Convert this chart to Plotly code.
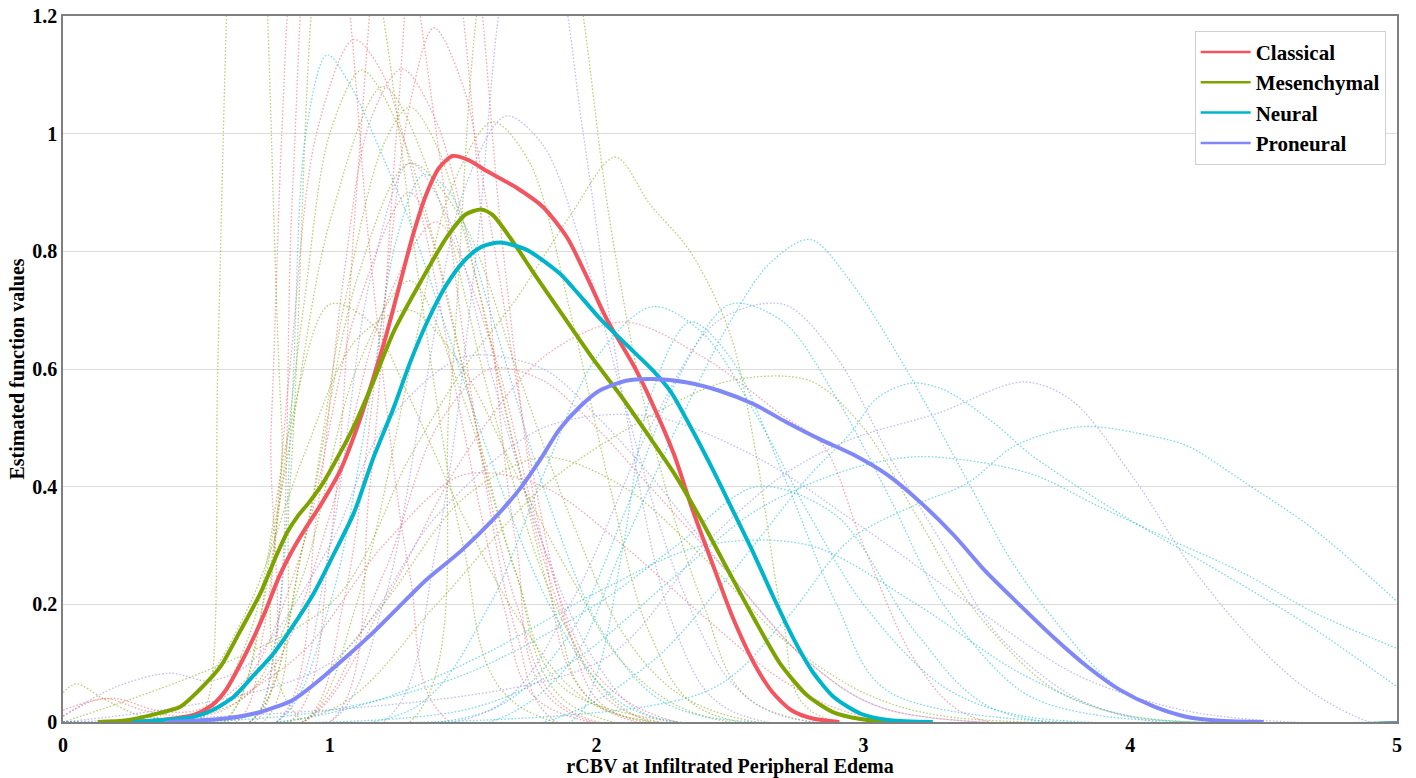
import plotly.graph_objects as go

# ---------------- main (group) curves ----------------
classical_x = [0.24,0.36,0.49,0.56,0.61,0.66,0.71,0.76,0.81,0.86,0.91,0.97,1.04,1.11,1.16,1.21,1.26,1.31,1.36,1.41,1.46,
               1.52,1.59,1.70,1.80,1.89,1.96,2.04,2.14,2.21,2.29,2.36,2.44,2.51,2.59,2.66,2.73,2.81,2.91]
classical_y = [0,0.003,0.012,0.029,0.054,0.094,0.139,0.19,0.247,0.292,0.33,0.372,0.428,0.51,0.58,0.655,0.74,0.825,0.895,0.942,0.962,
               0.955,0.936,0.908,0.875,0.823,0.76,0.683,0.605,0.54,0.455,0.36,0.262,0.178,0.10,0.05,0.02,0.006,0]

mesenchymal_x = [0.13,0.24,0.36,0.44,0.51,0.59,0.66,0.74,0.80,0.84,0.88,0.92,0.97,1.01,1.09,1.16,1.24,1.34,1.44,1.51,1.567,
                 1.61,1.69,1.76,1.86,1.99,2.09,2.19,2.29,2.39,2.49,2.59,2.69,2.79,2.89,2.99,3.09]
mesenchymal_y = [0,0.003,0.015,0.026,0.054,0.094,0.151,0.219,0.283,0.322,0.35,0.372,0.403,0.434,0.502,0.575,0.664,0.748,0.825,0.863,0.871,
                 0.862,0.814,0.766,0.70,0.615,0.555,0.49,0.423,0.345,0.26,0.176,0.098,0.045,0.016,0.005,0]

neural_x = [0.26,0.36,0.49,0.56,0.64,0.71,0.79,0.86,0.94,1.01,1.09,1.16,1.24,1.30,1.37,1.44,1.51,1.57,1.64,1.74,1.86,
            1.91,2.01,2.11,2.21,2.28,2.36,2.44,2.51,2.59,2.66,2.74,2.81,2.89,2.99,3.10,3.26]
neural_y = [0,0.003,0.009,0.02,0.043,0.077,0.117,0.162,0.219,0.281,0.355,0.445,0.535,0.61,0.685,0.745,0.787,0.808,0.815,0.802,0.763,
            0.739,0.687,0.642,0.598,0.56,0.495,0.425,0.36,0.285,0.215,0.14,0.085,0.042,0.014,0.003,0]

proneural_x = [0.39,0.61,0.74,0.86,0.96,1.06,1.16,1.26,1.36,1.49,1.61,1.71,1.79,1.86,1.94,2.01,2.11,2.21,2.34,2.46,
               2.59,2.71,2.84,2.96,3.09,3.21,3.34,3.46,3.59,3.71,3.84,3.96,4.09,4.21,4.34,4.50]
proneural_y = [0,0.006,0.017,0.037,0.071,0.11,0.151,0.196,0.241,0.29,0.343,0.395,0.447,0.497,0.537,0.563,0.58,0.583,0.577,0.563,
               0.54,0.51,0.48,0.455,0.42,0.375,0.317,0.255,0.197,0.145,0.094,0.055,0.026,0.009,0.002,0]

# ---------------- individual (dotted) curves ----------------
classical_ind_x = [
    [0.7,0.8,0.86,0.95,1.1,1.25,1.4,1.55,1.7,1.85],
    [0.65,0.75,0.85,0.95,1.09,1.2,1.35,1.5,1.65,1.8],
    [0.8,0.95,1.05,1.15,1.27,1.4,1.55,1.7,1.9,2.1],
    [0.9,1.05,1.2,1.3,1.39,1.5,1.6,1.75,1.9,2.05],
    [0.85,1.0,1.1,1.2,1.3,1.4,1.5,1.6,1.7,1.85],
    [1.0,1.15,1.25,1.35,1.45,1.55,1.65,1.8,2.0],
    [0.9,1.2,1.5,1.8,2.1,2.4,2.7,2.85,3.0,3.2,3.4],
    [0.9,1.2,1.4,1.6,1.8,2.0,2.2,2.5,2.8,3.1],
    [0,0.1,0.2,0.35,0.5,0.7,0.9,1.1,1.3,1.5,1.7,1.9],
    [0,0.15,0.3,0.45,0.6,0.8,1.0,1.2,1.4,1.6,1.8,2.0,2.3],
    [0.72,0.78,0.82,0.86,0.95,1.05,1.15,1.3,1.45],
    [0.3,0.6,0.9,1.2,1.5,1.8,2.1,2.4,2.7,3.0],
]
classical_ind_y = [
    [0,0.15,0.9,1.5,1.7,1.45,1.0,0.5,0.15,0],
    [0,0.15,0.6,1.0,1.16,1.1,0.85,0.5,0.2,0.03],
    [0,0.35,0.75,1.02,1.11,1.02,0.75,0.45,0.15,0.02],
    [0,0.2,0.7,1.05,1.18,1.08,0.85,0.45,0.15,0.02],
    [0,0.3,0.9,1.45,1.7,1.55,1.2,0.7,0.3,0.03],
    [0,0.4,1.0,1.5,1.6,1.3,0.8,0.3,0.03],
    [0,0.2,0.45,0.62,0.68,0.62,0.52,0.47,0.3,0.1,0.01],
    [0,0.25,0.5,0.6,0.58,0.5,0.4,0.25,0.1,0.02],
    [0.02,0.035,0.04,0.02,0.02,0.08,0.3,0.7,0.9,0.6,0.2,0.02],
    [0.01,0.04,0.02,0.01,0.02,0.1,0.35,0.7,0.85,0.65,0.3,0.08,0],
    [0,0.5,1.0,1.3,1.5,1.3,0.8,0.25,0],
    [0,0.03,0.12,0.3,0.42,0.4,0.3,0.18,0.07,0.01],
]

mesenchymal_ind_x = [
    [0.5,0.55,0.58,0.62,0.68,0.75,0.82,0.9],
    [1.0,1.3,1.5,1.7,1.9,2.07,2.2,2.35,2.5,2.6,2.7,2.8],
    [0.5,0.7,0.85,1.0,1.15,1.3,1.5,1.7,1.9,2.1],
    [0.6,0.75,0.9,1.0,1.12,1.25,1.4,1.55,1.7,1.9],
    [0.7,0.9,1.05,1.2,1.3,1.4,1.55,1.7,1.85,2.0],
    [0.9,1.1,1.3,1.45,1.61,1.75,1.9,2.05,2.2,2.4],
    [0.75,0.85,0.93,1.0,1.1,1.2,1.35,1.5,1.7],
    [1.3,1.45,1.55,1.7,1.85,1.95,2.05,2.2,2.4,2.6],
    [0,0.05,0.15,0.3,0.5,0.7,0.9,1.1,1.3,1.5,1.7,1.9],
    [1.0,1.4,1.8,2.2,2.5,2.8,3.0,3.2,3.4,3.7,4.0],
    [0.7,0.9,1.1,1.3,1.5,1.7,1.9,2.1,2.3,2.6],
    [0.6,0.8,1.0,1.2,1.4,1.6,1.8,2.0,2.2],
    [0.3,0.5,0.7,0.9,1.1,1.3,1.5,1.7,1.9,2.1,2.4],
    [0.6,0.9,1.2,1.5,1.8,2.1,2.4,2.7,3.0,3.3],
]
mesenchymal_ind_y = [
    [0,0.05,0.6,1.3,1.9,1.4,0.5,0],
    [0.2,0.45,0.6,0.72,0.86,0.96,0.88,0.8,0.66,0.45,0.17,0.02],
    [0,0.15,0.5,0.71,0.68,0.55,0.35,0.18,0.06,0.01],
    [0,0.2,0.7,1.0,1.108,1.02,0.8,0.5,0.25,0.03],
    [0,0.3,0.7,0.98,1.045,0.98,0.75,0.45,0.18,0.03],
    [0,0.2,0.6,0.9,1.02,0.95,0.7,0.4,0.15,0.02],
    [0,0.4,1.2,1.5,1.45,1.2,0.7,0.3,0.03],
    [0,0.55,1.2,1.6,1.5,1.2,0.85,0.5,0.2,0.03],
    [0.05,0.065,0.04,0.01,0.01,0.05,0.25,0.6,0.75,0.55,0.25,0.05],
    [0.02,0.2,0.4,0.52,0.58,0.58,0.5,0.35,0.2,0.06,0.01],
    [0,0.3,0.75,0.95,0.85,0.6,0.35,0.15,0.05,0],
    [0,0.35,0.85,1.08,0.9,0.55,0.25,0.07,0],
    [0,0.05,0.2,0.45,0.65,0.7,0.6,0.42,0.25,0.1,0.01],
    [0,0.05,0.2,0.38,0.45,0.4,0.28,0.14,0.05,0.01],
]

neural_ind_x = [
    [0.7,0.8,0.86,0.91,0.99,1.08,1.19,1.3,1.45,1.6,1.8,2.0,2.2],
    [1.6,1.9,2.1,2.3,2.5,2.65,2.8,2.95,3.16,3.39,3.56,3.74,3.95,4.2],
    [1.8,2.2,2.5,2.8,2.95,3.05,3.18,3.3,3.49,3.62,3.82,4.02,4.28,4.49,4.69,5.0],
    [2.4,2.7,2.95,3.2,3.39,3.57,3.82,4.09,4.22,4.42,4.69,5.0],
    [1.5,1.9,2.3,2.6,2.95,3.22,3.62,3.88,4.15,4.42,4.69,5.0],
    [1.3,1.6,1.8,2.0,2.21,2.4,2.6,2.8,3.0,3.3,3.6],
    [1.6,1.9,2.1,2.3,2.5,2.7,2.9,3.1,3.3,3.6,3.9],
    [0.8,1.0,1.15,1.25,1.35,1.45,1.6,1.8,2.0,2.2,2.4],
    [0.5,1.0,1.5,2.0,2.3,2.6,2.9,3.2,3.5],
    [1.9,2.0,2.1,2.2,2.35,2.5,2.7,2.9,3.1],
    [0.8,1.2,1.6,2.0,2.4,2.8,3.2,3.6,4.0],
]
neural_ind_y = [
    [0,0.15,0.56,1.0,1.134,1.08,0.97,0.85,0.65,0.45,0.22,0.07,0.01],
    [0,0.1,0.3,0.5,0.68,0.78,0.82,0.75,0.6,0.41,0.27,0.16,0.06,0.01],
    [0,0.1,0.25,0.42,0.49,0.55,0.576,0.565,0.508,0.457,0.395,0.338,0.27,0.214,0.158,0.06],
    [0.05,0.17,0.31,0.37,0.406,0.47,0.502,0.485,0.468,0.41,0.327,0.205],
    [0.02,0.1,0.25,0.36,0.43,0.451,0.423,0.367,0.31,0.254,0.186,0.125],
    [0.02,0.2,0.42,0.62,0.706,0.66,0.52,0.35,0.2,0.06,0.01],
    [0.02,0.15,0.35,0.58,0.71,0.68,0.55,0.38,0.2,0.05,0.01],
    [0,0.2,0.55,0.82,0.93,0.9,0.7,0.4,0.17,0.05,0.01],
    [0,0.02,0.08,0.2,0.3,0.4,0.35,0.15,0.02],
    [0,0.08,0.3,0.55,0.68,0.62,0.42,0.2,0.05],
    [0,0.04,0.12,0.22,0.3,0.3,0.2,0.08,0.01],
]

proneural_ind_x = [
    [1.2,1.4,1.55,1.65,1.75,1.85,1.95,2.1,2.3,2.5],
    [1.0,1.2,1.35,1.5,1.66,1.8,1.95,2.1,2.3,2.5,2.7],
    [0,0.2,0.4,0.55,0.7,1.0,1.2,1.5,1.8,2.0,2.2,2.5,2.8,3.1],
    [2.0,2.4,2.7,2.95,3.28,3.6,3.78,4.02,4.22,4.42,4.65,4.9],
    [1.0,1.4,1.8,2.2,2.6,3.0,3.4,3.8,4.2,4.6],
    [0.8,1.0,1.15,1.3,1.45,1.6,1.8,2.0,2.2],
    [1.6,1.9,2.2,2.45,2.7,2.9,3.1,3.3,3.5,3.8,4.1],
]
proneural_ind_y = [
    [0,0.3,0.8,1.25,1.4,1.3,1.0,0.55,0.15,0.02],
    [0,0.2,0.55,0.9,1.03,0.98,0.8,0.55,0.25,0.07,0.01],
    [0.01,0.06,0.083,0.07,0.1,0.3,0.5,0.62,0.6,0.52,0.42,0.25,0.1,0.02],
    [0.1,0.3,0.42,0.48,0.525,0.578,0.547,0.41,0.27,0.158,0.06,0.0],
    [0.1,0.35,0.5,0.52,0.45,0.33,0.2,0.08,0.02,0],
    [0,0.3,0.75,0.95,0.85,0.6,0.3,0.1,0.01],
    [0.02,0.2,0.5,0.68,0.71,0.62,0.45,0.3,0.15,0.04,0],
]

group_names = ["Classical", "Mesenchymal", "Neural", "Proneural"]
x_ticks = [0, 1, 2, 3, 4, 5]
y_ticks = [0, 0.2, 0.4, 0.6, 0.8, 1.0, 1.2]
y_ticktext = ["0", "0.2", "0.4", "0.6", "0.8", "1", "1.2"]
x_domain = [0, 5]

main_colors = ["#F2555F", "#7CA300", "#00B4CB", "#8088F8"]
dot_colors = ["rgba(240,95,105,0.55)", "rgba(130,165,20,0.55)",
              "rgba(20,185,205,0.55)", "rgba(140,135,235,0.55)"]

fig = go.Figure()

ind_sets = [(classical_ind_x, classical_ind_y), (mesenchymal_ind_x, mesenchymal_ind_y),
            (neural_ind_x, neural_ind_y), (proneural_ind_x, proneural_ind_y)]
for gi, (xs_list, ys_list) in enumerate(ind_sets):
    for xs, ys in zip(xs_list, ys_list):
        xs, ys = list(xs), list(ys)
        # density curves run along the baseline over the whole x domain
        if xs[0] > x_domain[0]:
            xs = [x_domain[0]] + xs
            ys = [0] + ys
        if xs[-1] < x_domain[1]:
            xs = xs + [x_domain[1]]
            ys = ys + [0]
        fig.add_trace(go.Scatter(
            x=xs, y=ys, mode="lines", showlegend=False, hoverinfo="skip",
            line=dict(color=dot_colors[gi], width=1.3, dash="1.6px,1.9px", shape="spline", smoothing=0.9),
        ))

mains = [(classical_x, classical_y), (mesenchymal_x, mesenchymal_y),
         (neural_x, neural_y), (proneural_x, proneural_y)]
for gi, (xs, ys) in enumerate(mains):
    fig.add_trace(go.Scatter(
        x=xs, y=ys, mode="lines", name=group_names[gi], showlegend=False,
        line=dict(color=main_colors[gi], width=4, shape="spline", smoothing=0.7),
    ))
# legend entries (thin line samples as in the reference)
for gi in range(4):
    fig.add_trace(go.Scatter(
        x=[None], y=[None], mode="lines", name=group_names[gi],
        line=dict(color=main_colors[gi], width=2.5),
    ))

font_family = "Liberation Serif, Times New Roman, serif"
fig.update_layout(
    width=1416, height=778,
    paper_bgcolor="white", plot_bgcolor="white",
    margin=dict(l=63, r=19, t=16, b=56),
    font=dict(family=font_family, size=19, color="black"),
    legend=dict(
        x=0.9915, y=0.979, xanchor="right", yanchor="top",
        bgcolor="white", bordercolor="#d0d0d0", borderwidth=1,
        font=dict(family=font_family, size=21, color="black", weight="bold"),
        itemwidth=50,
    ),
    xaxis=dict(
        range=x_domain, tickvals=x_ticks, ticktext=[str(v) for v in x_ticks],
        showgrid=False, zeroline=False, showline=True, linecolor="#808080", linewidth=1.5,
        mirror=True, ticks="", automargin=False, ticklabelstandoff=4,
        tickfont=dict(family=font_family, size=20, color="black", weight="bold"),
        title=dict(text="<b>rCBV at Infiltrated Peripheral Edema</b>", standoff=2,
                   font=dict(family=font_family, size=20, color="black")),
    ),
    yaxis=dict(
        range=[0, 1.2], tickvals=y_ticks, ticktext=y_ticktext,
        showgrid=True, gridcolor="#dcdcdc", gridwidth=1, zeroline=False,
        showline=True, linecolor="#808080", linewidth=1.5, mirror=True, ticks="",
        automargin=False,
        tickfont=dict(family=font_family, size=20, color="black", weight="bold"),
        title=dict(text="<b>Estimated function values</b>", standoff=2,
                   font=dict(family=font_family, size=20, color="black")),
    ),
)

fig.write_html("out.html", config={"displayModeBar": False},
               post_script="document.body.style.margin='0';")
